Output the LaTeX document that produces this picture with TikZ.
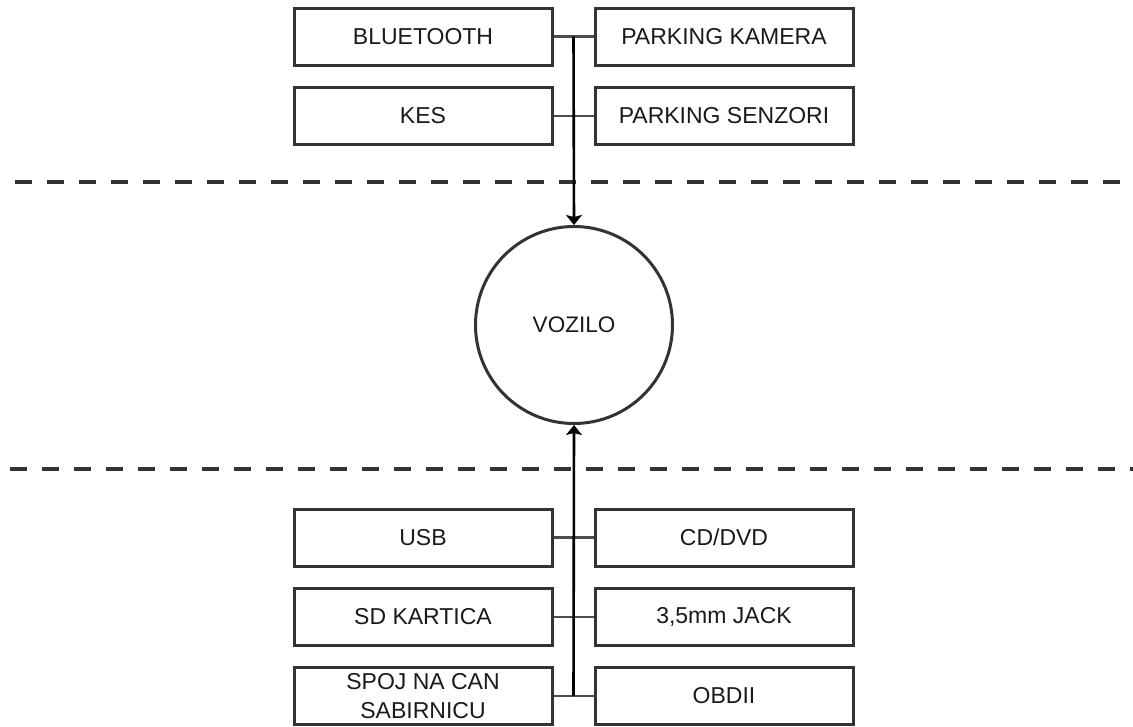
\documentclass[tikz,border=0pt]{standalone}
\usepackage{fontspec}
\setmainfont{Liberation Sans}
\usetikzlibrary{arrows.meta}
\definecolor{edge}{HTML}{333333}
\definecolor{conn}{HTML}{4D4D4D}
\definecolor{txt}{HTML}{1A1A1A}
\begin{document}
\begin{tikzpicture}[x=1pt,y=-1pt,
  box/.style={draw=edge,line width=3pt,fill=white,minimum width=258pt,minimum height=57pt,inner sep=0pt,
    font=\fontsize{23}{27}\selectfont,text=txt,align=center},
  hub/.style={draw=edge,line width=3pt,circle,minimum size=197pt,inner sep=0pt,
    font=\fontsize{22.5}{26}\selectfont,text=txt},
  link/.style={draw=conn,line width=2.6pt},
  feed/.style={draw=black,line width=2.6pt,-{Stealth[length=10pt,width=16pt,inset=2pt]}},
  sep/.style={draw=edge,line width=4.2pt,dash pattern=on 17pt off 15pt}]
\useasboundingbox (0,0) rectangle (1133,726);
% dashed separators
\draw[sep] (15,182) -- (1133,182);
\draw[sep] (10,469) -- (1133,469);
% central node
\node[hub] (voz) at (574,325) {VOZILO};
% top boxes
\node[box] (bt) at (423,36.5) {BLUETOOTH};
\node[box] (pk) at (724,36.5) {PARKING KAMERA};
\node[box] (kes) at (423,116) {KES};
\node[box] (ps) at (724,116) {PARKING SENZORI};
% bottom boxes
\node[box] (usb) at (423,537.5) {USB};
\node[box] (cd) at (724,537.5) {CD/DVD};
\node[box] (sd) at (423,617) {SD KARTICA};
\node[box] (jack) at (724,617) {3,5mm JACK};
\node[box] (can) at (423,696) {SPOJ NA CAN\\[2pt]SABIRNICU};
\node[box] (obd) at (724,696) {OBDII};
% junctions
\coordinate (jt) at (573.5,36.5);
\coordinate (jb) at (573.5,696);
% connectors
\draw[link] (bt.east) -- (pk.west);
\draw[link] (kes.east) -- (ps.west);
\draw[link] (usb.east) -- (cd.west);
\draw[link] (sd.east) -- (jack.west);
\draw[link] (can.east) -- (obd.west);
\draw[feed] (jt) -- (voz.north);
\draw[feed] (jb) -- (voz.south);
\end{tikzpicture}
\end{document}
